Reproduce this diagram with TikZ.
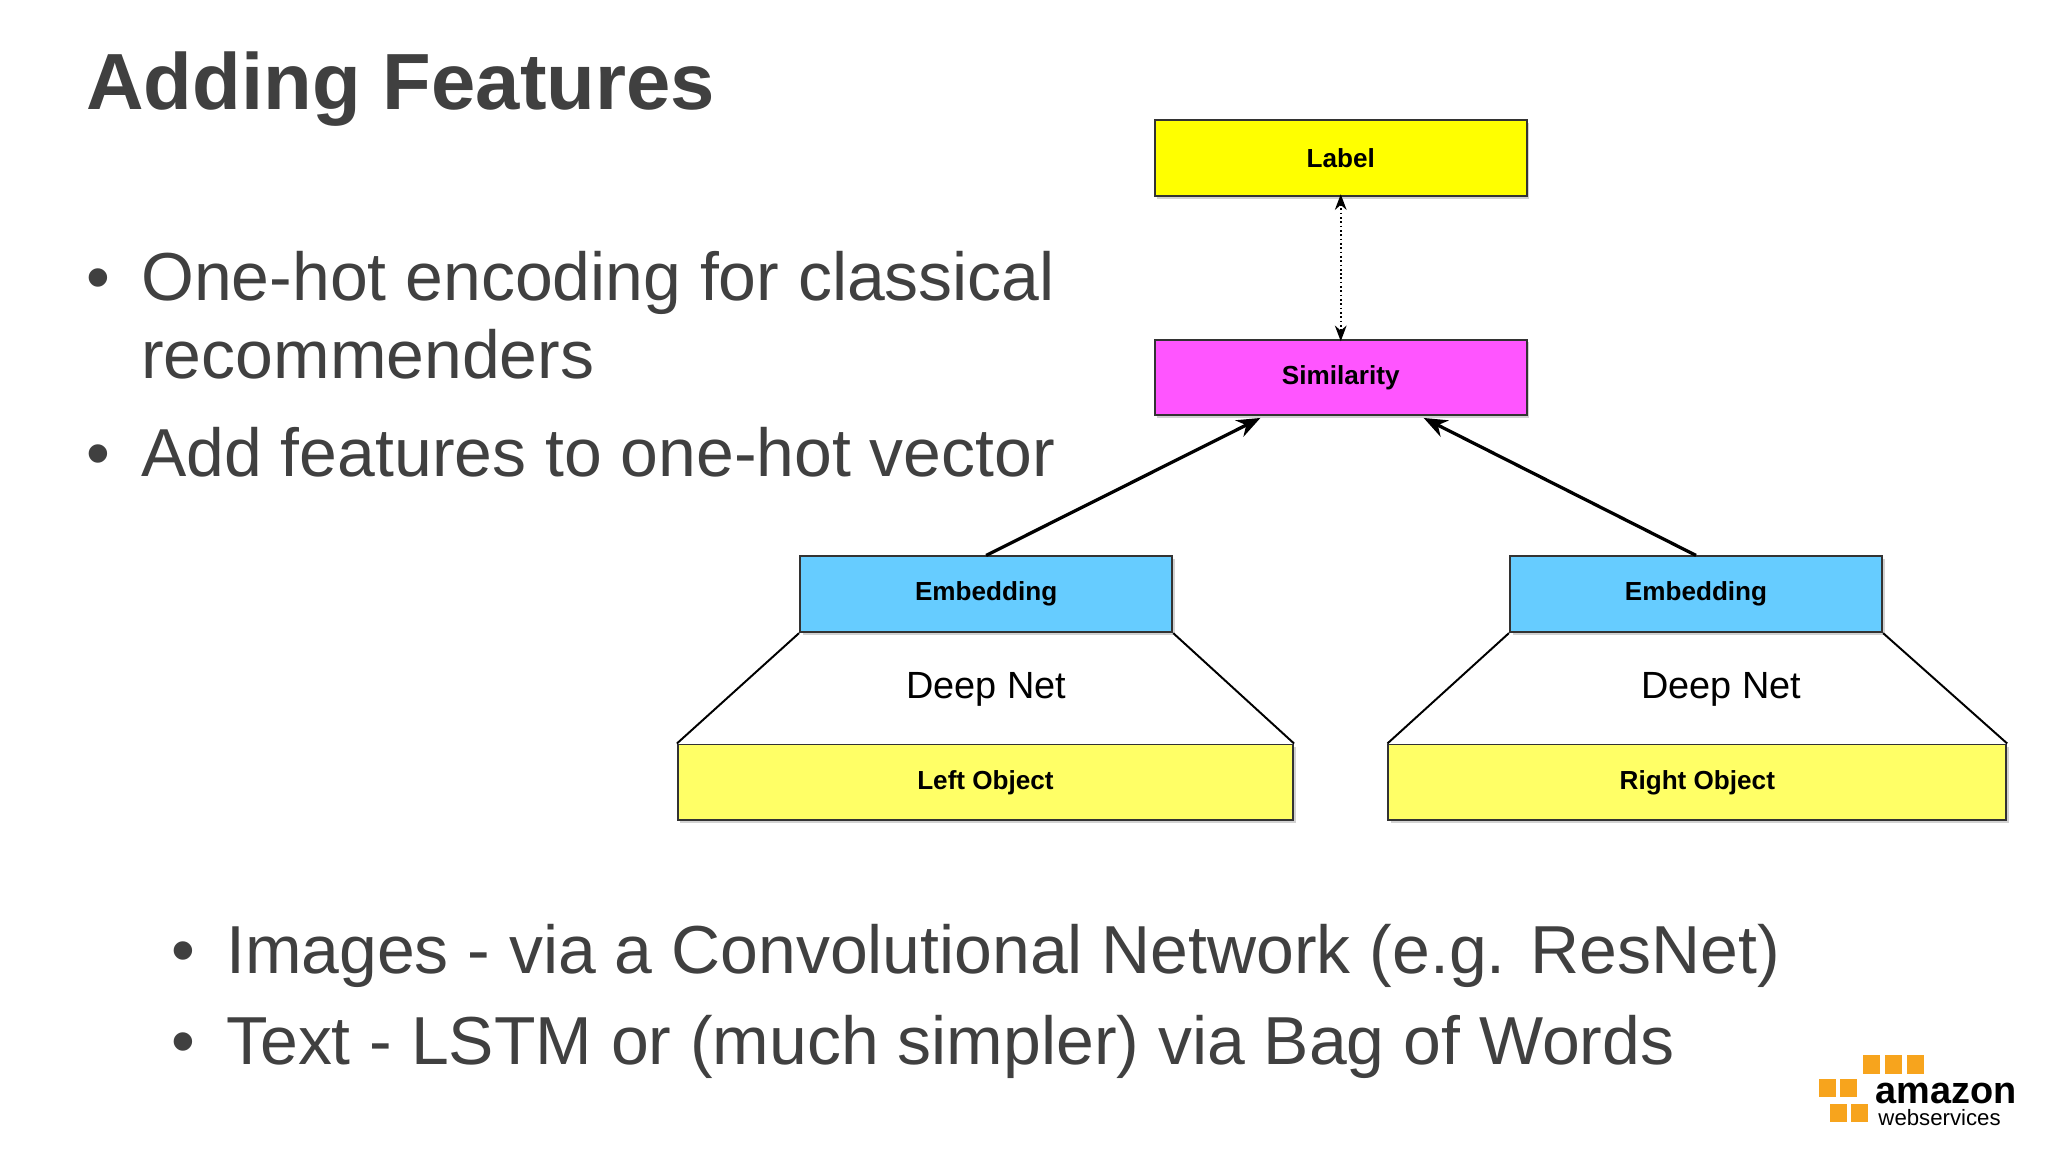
\documentclass[tikz,border=0pt]{standalone}
\usepackage{fontspec}
\setmainfont{Liberation Sans}
\usetikzlibrary{arrows.meta,shadows}
\definecolor{txt}{HTML}{404040}
\definecolor{lab}{HTML}{FFFF00}
\definecolor{sim}{HTML}{FF55FF}
\definecolor{emb}{HTML}{66CCFF}
\definecolor{obj}{HTML}{FFFF66}
\definecolor{aws}{HTML}{F7A41D}
\begin{document}
\begin{tikzpicture}[x=1pt,y=-1pt,
  box/.style={draw=black!80,line width=1.5pt,minimum width=285pt,minimum height=58pt,inner sep=0pt,font=\fontsize{20}{24}\selectfont\bfseries,drop shadow={shadow xshift=2pt,shadow yshift=-2pt,opacity=.35}},
  big/.style={font=\fontsize{52}{60}\selectfont,text=txt,anchor=base west,inner sep=0pt},
  con/.style={line width=2.5pt,-{Stealth[length=18pt,width=14pt]}},
  side/.style={line width=1.5pt}]
\useasboundingbox (0,0) rectangle (1568,882);
\fill[white] (0,0) rectangle (1568,882);
\node[anchor=base west,inner sep=0pt,font=\fontsize{61}{70}\selectfont\bfseries,text=txt] (title) at (66,84) {Adding Features};
\node[big] (b1) at (66,230) {•};
\node[big] (t1) at (108,230) {One-hot encoding for classical};
\node[big] (t1b) at (108,290) {recommenders};
\node[big] (b2) at (66,365) {•};
\node[big] (t2) at (108,365) {Add features to one-hot vector};
\node[big] (b3) at (131,745) {•};
\node[big] (t3) at (173,745) {Images - via a Convolutional Network (e.g. ResNet)};
\node[big] (b4) at (131,815) {•};
\node[big] (t4) at (173,815) {Text - LSTM or (much simpler) via Bag of Words};
\node[box,fill=lab] (label) at (1026.5,121) {Label};
\node[box,fill=sim] (sim) at (1026.5,289) {Similarity};
\node[box,fill=emb] (embL) at (755,455) {Embedding};
\node[box,fill=emb] (embR) at (1298.5,455) {Embedding};
\node[box,fill=obj,minimum width=471pt] (objL) at (754.5,599) {Left Object};
\node[box,fill=obj,minimum width=473pt] (objR) at (1299.5,599) {Right Object};
\node[font=\fontsize{29}{32}\selectfont] (dnL) at (755,528) {Deep Net};
\node[font=\fontsize{29}{32}\selectfont] (dnR) at (1318,528) {Deep Net};
\draw[line width=1.3pt,dotted,{Stealth[length=12pt,width=9pt]}-{Stealth[length=12pt,width=9pt]}] ([yshift=2pt]label.south) -- ([yshift=-2pt]sim.north);
\draw[con] (embL.north) -- (965,320);
\draw[con] (embR.north) -- (1090,320);
\draw[side] (embL.south west) -- (objL.north west);
\draw[side] (embL.south east) -- (objL.north east);
\draw[side] (embR.south west) -- (objR.north west);
\draw[side] (embR.south east) -- (objR.north east);
% AWS logo
\foreach \x/\y in {1426/808,1443/808,1460/808,1393/826,1409/826,1401/845,1417/845}
  \fill[aws] (\x,\y) rectangle ++(13,14);
\node[anchor=base west,inner sep=0pt,font=\fontsize{29}{32}\selectfont\bfseries] (amz) at (1436,845) {amazon};
\node[anchor=base west,inner sep=0pt,font=\fontsize{17}{19}\selectfont] (ws) at (1438,862) {webservices};
\end{tikzpicture}
\end{document}
